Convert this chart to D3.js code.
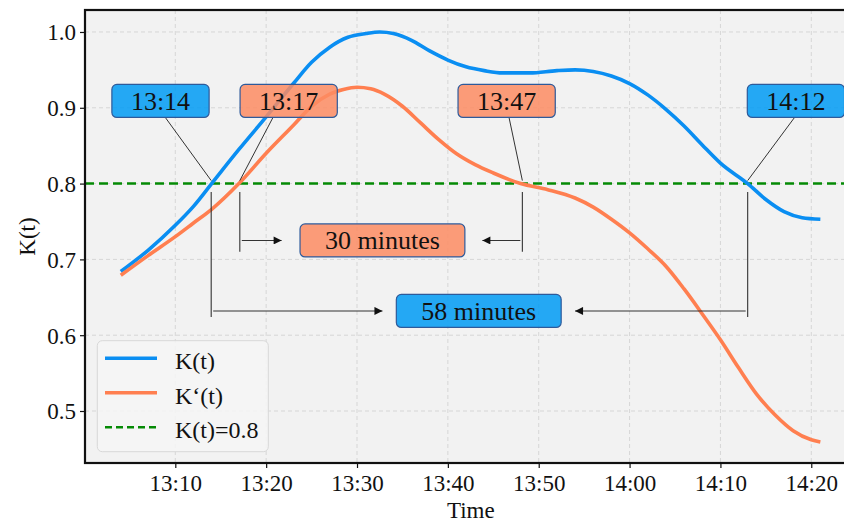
<!DOCTYPE html>
<html><head><meta charset="utf-8">
<script src="https://cdn.jsdelivr.net/npm/d3@7"></script>
<style>
body{margin:0;background:#fff}
text{font-family:"Liberation Serif","Times New Roman",serif;fill:#111}
</style>
</head><body>
<svg id="chart" width="844" height="522"></svg>
<script>
// ---------- data (minutes after 13:00) ----------
const timeK  = [4,7,10,12,14,17,20,23,25,27,29,31,32.5,34,36,38,40,42,44,46,49,52,54,56,58,60,62,64,66,68,70,73,75,77,79,81];
const valueK = [0.684,0.712,0.745,0.770,0.800,0.845,0.888,0.932,0.960,0.980,0.993,0.998,1.000,0.998,0.989,0.975,0.963,0.954,0.949,0.946,0.946,0.949,0.950,0.948,0.942,0.932,0.917,0.898,0.876,0.851,0.827,0.800,0.779,0.763,0.755,0.753];
const timeKp  = [4,7,10,12,14,17,20,23,25,27,28.5,30,31.5,33,35,37,39,41,43,45,48,51,54,56,58,60,62,64,66,68,70,72,74,76,78,80,81];
const valueKp = [0.679,0.705,0.730,0.748,0.766,0.800,0.840,0.877,0.902,0.918,0.924,0.927,0.925,0.918,0.902,0.880,0.858,0.839,0.825,0.814,0.800,0.792,0.781,0.769,0.753,0.735,0.714,0.691,0.661,0.628,0.594,0.557,0.522,0.495,0.474,0.462,0.459];
const threshold = 0.8;

const xTickLabels = ["13:10","13:20","13:30","13:40","13:50","14:00","14:10","14:20"];
const yTickValues = [0.5,0.6,0.7,0.8,0.9,1.0];
const legendLabels = ["K(t)","K\u2018(t)","K(t)=0.8"];

// crossing annotations
const crossLabels = ["13:14","13:17","13:47","14:12"];
const crossSeries = ["K","Kp","Kp","K"];
const crossTimes = [13.95,17.1,48.2,73.0];
const crossLabelTimes = [8.37,22.48,46.47,78.31];
const crossLeaderTimes = [8.86,20.78,46.72,78.2];
const crossLabelValue = 0.909;

// interval annotations
const intervalLabels = ["30 minutes","58 minutes"];
const intervalSeries = ["Kp","K"];
const intervalFrom = [17.1,13.95];
const intervalTo = [48.2,73.0];
const intervalArrowValue = [0.725,0.632];
const intervalBottomValue = [0.710,0.624];
const intervalTopValue = 0.789;
const intervalLabelTime = [32.8,43.4];
const intervalLeftTip = [21.7,32.8];
const intervalRightTip = [43.8,54.0];

// ---------- setup ----------
const base = new Date(2024,0,1,13,0,0);
const T = m => new Date(base.getTime() + m*60000);
const colors = {K:"#0a8ef2", Kp:"#ff7f50"};
const boxFill = {K:"#009bf5", Kp:"#fd8c63"};

const L=85, R=856.7, Tp=10, B=463;
const svg = d3.select("#chart");
const x = d3.scaleTime().domain([T(0.06),T(85)]).range([L,R]);
const y = d3.scaleLinear().domain([0.4314,1.029]).range([B,Tp]);

const defs = svg.append("defs");
defs.append("clipPath").attr("id","clip").append("rect").attr("x",L).attr("y",Tp).attr("width",R-L).attr("height",B-Tp);
defs.append("marker").attr("id","arr").attr("viewBox","0 0 10 10").attr("refX",10).attr("refY",5)
  .attr("markerWidth",10).attr("markerHeight",8).attr("markerUnits","userSpaceOnUse").attr("orient","auto")
  .append("path").attr("d","M0,0L10,5L0,10z").attr("fill","#111");

svg.append("rect").attr("x",L).attr("y",Tp).attr("width",R-L).attr("height",B-Tp).attr("fill","#f2f2f2");

const xTicks = xTickLabels.map(s=>{const [h,m]=s.split(":").map(Number); return T((h-13)*60+m);});
// grid
const grid = svg.append("g");
grid.selectAll(".gx").data(xTicks).join("line").attr("x1",d=>x(d)).attr("x2",d=>x(d)).attr("y1",Tp).attr("y2",B)
  .attr("stroke","#d6d6d6").attr("stroke-width",1).attr("stroke-dasharray","4,3");
grid.selectAll(".gy").data(yTickValues).join("line").attr("y1",d=>y(d)).attr("y2",d=>y(d)).attr("x1",L).attr("x2",R)
  .attr("stroke","#d6d6d6").attr("stroke-width",1).attr("stroke-dasharray","4,3");

const plot = svg.append("g").attr("clip-path","url(#clip)");
plot.append("line").attr("x1",L).attr("x2",R).attr("y1",y(threshold)).attr("y2",y(threshold))
  .attr("stroke","#058a05").attr("stroke-width",2.5).attr("stroke-dasharray","9,5");

const line = d3.line().x(d=>x(T(d[0]))).y(d=>y(d[1])).curve(d3.curveMonotoneX);
plot.append("path").datum(timeK.map((t,i)=>[t,valueK[i]])).attr("d",line).attr("fill","none")
  .attr("stroke",colors.K).attr("stroke-width",3.6).attr("stroke-linecap","butt");
plot.append("path").datum(timeKp.map((t,i)=>[t,valueKp[i]])).attr("d",line).attr("fill","none")
  .attr("stroke",colors.Kp).attr("stroke-width",3.6).attr("stroke-linecap","butt");

// axes
const xAxis = d3.axisBottom(x).tickValues(xTicks).tickFormat(d3.timeFormat("%H:%M")).tickSize(5).tickPadding(7);
const gx = svg.append("g").attr("transform",`translate(0,${B})`).call(xAxis);
gx.select(".domain").remove();
gx.attr("font-family","Liberation Serif");
gx.selectAll("line").attr("stroke","#111").attr("stroke-width",1.2);
gx.selectAll("text").attr("font-size",23).attr("fill","#111").attr("dy","0.7em");
const yAxis = d3.axisLeft(y).tickValues(yTickValues).tickFormat(d3.format(".1f")).tickSize(5).tickPadding(4);
const gy = svg.append("g").attr("transform",`translate(${L},0)`).call(yAxis);
gy.select(".domain").remove();
gy.attr("font-family","Liberation Serif");
gy.selectAll("line").attr("stroke","#111").attr("stroke-width",1.2);
gy.selectAll("text").attr("font-size",23).attr("fill","#111").attr("dy","0.34em");

svg.append("text").attr("x",(L+R)/2).attr("y",518).attr("text-anchor","middle").attr("font-size",23).text("Time");
svg.append("text").attr("transform",`translate(35,${(Tp+B)/2}) rotate(-90)`).attr("text-anchor","middle").attr("font-size",23).text("K(t)");

// ---------- annotations ----------
const ann = svg.append("g");
function box(cx, cy, label, key, pad){
  const g = ann.append("g");
  const t = g.append("text").attr("x",cx).attr("y",cy+9).attr("text-anchor","middle").attr("font-size",26).text(label);
  const w = t.node().getComputedTextLength()+2*pad, h=33;
  g.insert("rect","text").attr("x",cx-w/2).attr("y",cy-h/2).attr("width",w).attr("height",h).attr("rx",5)
    .attr("fill",boxFill[key]).attr("fill-opacity",0.85).attr("stroke","#2e5a9a").attr("stroke-width",1.2);
}
crossLabels.forEach((lab,i)=>{
  const cy = y(crossLabelValue);
  ann.append("line").attr("x1",x(T(crossLeaderTimes[i]))).attr("y1",cy+16).attr("x2",x(T(crossTimes[i]))).attr("y2",y(threshold)-3)
    .attr("stroke","#333").attr("stroke-width",1);
  box(x(T(crossLabelTimes[i])), cy, lab, crossSeries[i], 19);
});
intervalLabels.forEach((lab,i)=>{
  const x1 = x(T(intervalFrom[i])), x2 = x(T(intervalTo[i]));
  const yt = y(intervalTopValue), yb = y(intervalBottomValue[i]), ya = y(intervalArrowValue[i]);
  [x1,x2].forEach(xx=>ann.append("line").attr("x1",xx).attr("x2",xx).attr("y1",yt).attr("y2",yb).attr("stroke","#333").attr("stroke-width",1.1));
  ann.append("line").attr("x1",x1+2).attr("x2",x(T(intervalLeftTip[i]))).attr("y1",ya).attr("y2",ya)
    .attr("stroke","#333").attr("stroke-width",1.1).attr("marker-end","url(#arr)");
  ann.append("line").attr("x1",x2-2).attr("x2",x(T(intervalRightTip[i]))).attr("y1",ya).attr("y2",ya)
    .attr("stroke","#333").attr("stroke-width",1.1).attr("marker-end","url(#arr)");
  box(x(T(intervalLabelTime[i])), ya, lab, intervalSeries[i], 25);
});

// ---------- legend ----------
const lg = svg.append("g");
lg.append("rect").attr("x",97.3).attr("y",340.7).attr("width",171).attr("height",111).attr("rx",5)
  .attr("fill","#f6f6f6").attr("fill-opacity",0.85).attr("stroke","#d8d8d8").attr("stroke-width",1);
const legStyles = [{c:colors.K,d:null,w:3.6},{c:colors.Kp,d:null,w:3.6},{c:"#058a05",d:"7,4",w:2.5}];
legendLabels.forEach((lab,i)=>{
  const ry = 358.3 + i*34.5;
  lg.append("line").attr("x1",105).attr("x2",157).attr("y1",ry).attr("y2",ry).attr("stroke",legStyles[i].c)
    .attr("stroke-width",legStyles[i].w).attr("stroke-dasharray",legStyles[i].d);
  lg.append("text").attr("x",175).attr("y",ry+11).attr("font-size",24).text(lab);
});

// frame
svg.append("rect").attr("x",L).attr("y",Tp).attr("width",R-L).attr("height",B-Tp).attr("fill","none")
  .attr("stroke","#111").attr("stroke-width",2.2);
</script>
</body></html>
